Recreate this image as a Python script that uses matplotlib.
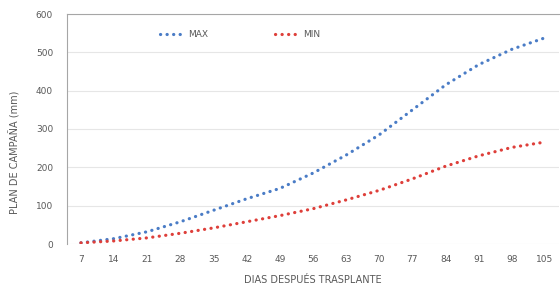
import matplotlib.pyplot as plt

days = [7, 14, 21, 28, 35, 42, 49, 56, 63, 70, 77, 84, 91, 98, 105]
max_vals = [3, 14, 32, 58, 88, 118, 145, 185, 232, 285, 350, 415, 468, 508, 538]
min_vals = [3, 8, 16, 28, 42, 58, 74, 92, 115, 140, 170, 203, 230, 252, 266]
yticks = [0, 100, 200, 300, 400, 500, 600]

TEXT = '#595959'

def main():
    fig = plt.figure(figsize=(5.6, 2.91), dpi=100)
    ax = fig.add_axes([67 / 560, 47 / 291, 492 / 560, 230 / 291])

    idx = list(range(len(days)))
    dots = (0, (0.05, 2.0))
    ax.plot(idx, max_vals, color='#4a7cc6', lw=2.3, linestyle=dots,
            dash_capstyle='round', label='MAX')
    ax.plot(idx, min_vals, color='#de3f3a', lw=2.3, linestyle=dots,
            dash_capstyle='round', label='MIN')

    ax.set_xlim(-0.42, 14.42)
    ax.set_ylim(0, 600)
    ax.set_xticks(idx)
    ax.set_xticklabels([str(d) for d in days])
    ax.set_yticks(yticks)
    ax.tick_params(axis='both', length=0, labelsize=6.5, labelcolor=TEXT)
    ax.tick_params(axis='x', pad=8)
    ax.tick_params(axis='y', pad=10)

    ax.grid(axis='y', color='#e6e6e6', lw=0.8)
    ax.set_axisbelow(True)
    for side in ['right', 'bottom']:
        ax.spines[side].set_visible(False)
    ax.spines['left'].set_color('#a6a6a6')
    ax.spines['top'].set_color('#a6a6a6')

    ax.set_xlabel('DIAS DESPUÉS TRASPLANTE', fontsize=7, color=TEXT, labelpad=8)
    ax.set_ylabel('PLAN DE CAMPAÑA (mm)', fontsize=7, color=TEXT)
    ax.yaxis.set_label_coords(-0.0935, 0.40)

    ax.legend(loc='center', bbox_to_anchor=(0.352, 0.909), ncol=2, frameon=False,
              fontsize=6.5, labelcolor=TEXT, handlelength=2.8, handletextpad=0.3,
              columnspacing=7.5)

    fig.savefig('out.png', dpi=100)

if __name__ == '__main__':
    main()
